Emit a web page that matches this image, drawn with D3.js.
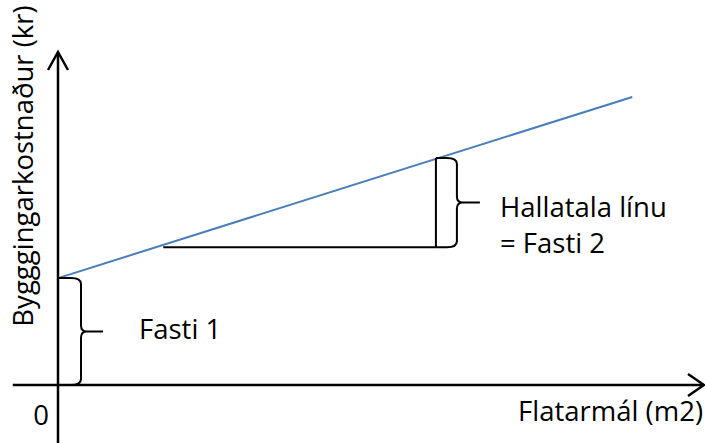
<!DOCTYPE html>
<html>
<head>
<meta charset="utf-8">
<script src="https://cdn.jsdelivr.net/npm/d3@7"></script>
<style>
  html, body { margin: 0; padding: 0; background: #fff; }
  text { font-family: "Open Sans", sans-serif; fill: #000; }
</style>
</head>
<body>
<svg id="chart" width="705" height="443"></svg>
<script>
// data (abstract units)
const axisXExtent = [-7, 100];
const axisYExtent = [-17.5, 100];
const lineX = [0, 88.9];
const lineY = [32.1, 86.5];
const runX = [16.3, 58.5];      // horizontal leg of slope triangle
const riseY = [41.4, 68.2];     // vertical leg of slope triangle
const labelFasti1 = "Fasti 1";
const labelSlope = ["Hallatala línu", "= Fasti 2"];
const labelX = "Flatarmál (m2)";
const labelY = "Bygggingarkostnaður (kr)";
const labelOrigin = "0";

const svg = d3.select("#chart");

const xScale = d3.scaleLinear().domain([0, 100]).range([58, 704]);
const yScale = d3.scaleLinear().domain([0, 100]).range([385, 52]);

// axes
svg.append("line")
    .attr("x1", xScale(axisXExtent[0])).attr("x2", xScale(axisXExtent[1]))
    .attr("y1", yScale(0)).attr("y2", yScale(0))
    .attr("stroke", "#000").attr("stroke-width", 2.5);

svg.append("line")
    .attr("x1", xScale(0)).attr("x2", xScale(0))
    .attr("y1", yScale(axisYExtent[0])).attr("y2", yScale(axisYExtent[1]))
    .attr("stroke", "#000").attr("stroke-width", 2.5);

// arrow heads
const xt = xScale(axisXExtent[1]), yt = yScale(axisYExtent[1]);
svg.append("path")
    .attr("d", `M${xt - 16},${yScale(0) - 11}L${xt},${yScale(0)}L${xt - 16},${yScale(0) + 11}`)
    .attr("fill", "none").attr("stroke", "#000").attr("stroke-width", 2.5);
svg.append("path")
    .attr("d", `M${xScale(0) - 10},${yt + 18}L${xScale(0)},${yt}L${xScale(0) + 10},${yt + 18}`)
    .attr("fill", "none").attr("stroke", "#000").attr("stroke-width", 2.5);

// blue line
const line = d3.line().x(d => xScale(d[0])).y(d => yScale(d[1]));
svg.append("path")
    .datum(d3.zip(lineX, lineY))
    .attr("d", line)
    .attr("fill", "none")
    .attr("stroke", "#4a7ebb")
    .attr("stroke-width", 2);

// slope triangle
svg.append("line")
    .attr("x1", xScale(runX[0])).attr("x2", xScale(runX[1]))
    .attr("y1", yScale(riseY[0])).attr("y2", yScale(riseY[0]))
    .attr("stroke", "#000").attr("stroke-width", 2);
svg.append("line")
    .attr("x1", xScale(runX[1])).attr("x2", xScale(runX[1]))
    .attr("y1", yScale(riseY[0])).attr("y2", yScale(riseY[1]))
    .attr("stroke", "#000").attr("stroke-width", 2);

// curly brace: from x0 (left end), spine at x0+w, tip at x0+w+t
function brace(x0, yTop, yBot, w, t) {
  const xs = x0 + w, ym = (yTop + yBot) / 2, r = 6;
  return `M${x0},${yTop}L${xs - r - 4},${yTop}Q${xs},${yTop} ${xs},${yTop + r}` +
    `L${xs},${ym - r}Q${xs},${ym} ${xs + r},${ym}L${xs + t},${ym}` +
    `M${xs + r},${ym}Q${xs},${ym} ${xs},${ym + r}` +
    `L${xs},${yBot - r}Q${xs},${yBot} ${xs - r - 4},${yBot}L${x0},${yBot}`;
}

svg.append("path")
    .attr("d", brace(xScale(0), yScale(lineY[0]), yScale(0), 23, 22))
    .attr("fill", "none").attr("stroke", "#000").attr("stroke-width", 2);

svg.append("path")
    .attr("d", brace(xScale(runX[1]), yScale(riseY[1]), yScale(riseY[0]), 21, 23))
    .attr("fill", "none").attr("stroke", "#000").attr("stroke-width", 2);

// labels
const fs = 27.5;
svg.append("text")
    .attr("x", 139).attr("y", 339)
    .style("font-size", fs + "px")
    .text(labelFasti1);

svg.selectAll(".slope-label")
    .data(labelSlope)
    .enter()
    .append("text")
    .attr("class", "slope-label")
    .attr("x", 500)
    .attr("y", (d, i) => 217 + i * 36)
    .style("font-size", fs + "px")
    .text(d => d);

svg.append("text")
    .attr("x", 703).attr("y", 421)
    .style("text-anchor", "end")
    .style("font-size", fs + "px")
    .text(labelX);

svg.append("text")
    .attr("x", 41).attr("y", 425)
    .style("text-anchor", "middle")
    .style("font-size", fs + "px")
    .text(labelOrigin);

svg.append("text")
    .attr("transform", "rotate(-90)")
    .attr("x", -166).attr("y", 33)
    .style("text-anchor", "middle")
    .style("font-size", fs + "px")
    .text(labelY);
</script>
</body>
</html>
